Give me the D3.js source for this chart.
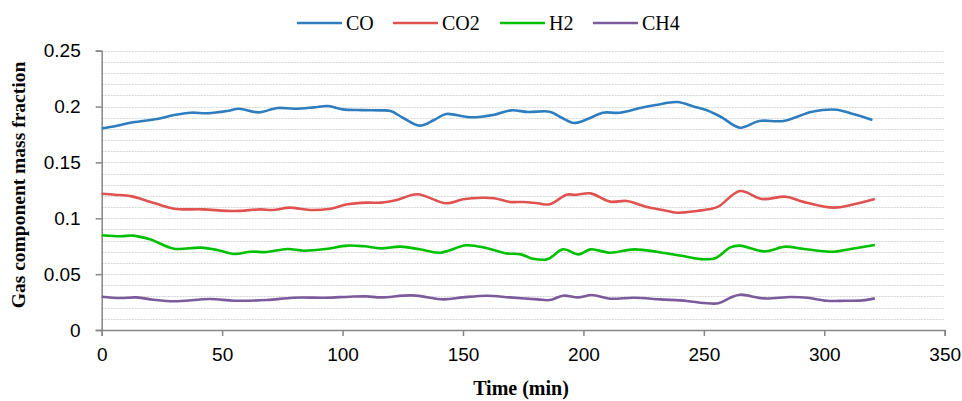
<!DOCTYPE html>
<html><head><meta charset="utf-8">
<script src="https://cdn.jsdelivr.net/npm/d3@7"></script>
<style>body{margin:0;background:#fff}svg{display:block}</style>
</head><body>
<script>
const seriesNames = ["CO", "CO2", "H2", "CH4"];
const seriesColors = ["#2e7ebf", "#df5250", "#00c000", "#7b5b9b"];

const coTime = [0,6,13,23,30,37,44,52,57,65,73,80,88,94,100,108,116,120,125,132,138,143,153,163,170,177,186,191,196,202,208,215,224,230,239,246,251,257,265,273,283,295,305,312,320];
const coVal  = [0.1805,0.1826,0.1859,0.1889,0.1924,0.1945,0.1940,0.1960,0.1981,0.1948,0.1987,0.1981,0.1993,0.2005,0.1975,0.1968,0.1966,0.1960,0.1900,0.1829,0.1880,0.1933,0.1904,0.1927,0.1966,0.1951,0.1954,0.1900,0.1853,0.1890,0.1945,0.1945,0.1990,0.2014,0.2041,0.1999,0.1969,0.1909,0.1811,0.1871,0.1871,0.1954,0.1972,0.1933,0.1880];

const co2Time = [0,5.5,12.5,20,30,42,55,66,71,78,86.5,95,102,110,116,122.5,131,143,150,158,163,169.5,175,181,186,193,197,203,211,218,226,233,239,247,252,256,265,274,284,291,304,311,321];
const co2Val  = [0.1220,0.1211,0.1196,0.1149,0.1086,0.1080,0.1065,0.1080,0.1074,0.1095,0.1074,0.1086,0.1125,0.1140,0.1140,0.1164,0.1215,0.1134,0.1170,0.1184,0.1180,0.1146,0.1146,0.1134,0.1125,0.1211,0.1210,0.1223,0.1149,0.1155,0.1104,0.1074,0.1050,0.1065,0.1080,0.1104,0.1244,0.1173,0.1193,0.1149,0.1095,0.1119,0.1173];

const h2Time = [0,8,13,20,30,41,48,55,62,68.5,77,84,93,102,109,116,124,132,140.5,151.5,160,168,174,179,185,191.5,198,203,211,221,231,240,250,255,261,265,275,284,291,304,311,321];
const h2Val  = [0.0848,0.0839,0.0845,0.0812,0.0728,0.0737,0.0716,0.0680,0.0701,0.0698,0.0725,0.0710,0.0725,0.0755,0.0749,0.0731,0.0746,0.0722,0.0692,0.0758,0.0731,0.0686,0.0677,0.0638,0.0633,0.0722,0.0677,0.0722,0.0692,0.0722,0.0698,0.0667,0.0633,0.0645,0.0740,0.0755,0.0704,0.0746,0.0728,0.0701,0.0725,0.0761];

const ch4Time = [0,7.5,14.5,21.5,30,45,55,68.5,79.5,93,103,110,116,129,142,150,160,169.5,181,186,191.5,198,203.5,211,221,232,243,250,256,261,265,275,286,293,301,309,316,321];
const ch4Val  = [0.0298,0.0286,0.0292,0.0271,0.0257,0.0277,0.0262,0.0268,0.0289,0.0289,0.0298,0.0301,0.0292,0.0310,0.0274,0.0292,0.0307,0.0292,0.0274,0.0268,0.0307,0.0292,0.0313,0.0280,0.0289,0.0274,0.0260,0.0242,0.0239,0.0289,0.0316,0.0283,0.0295,0.0289,0.0262,0.0262,0.0265,0.0283];

const xTicks = [0,50,100,150,200,250,300,350];
const yTicks = [0,0.05,0.1,0.15,0.2,0.25];
const yMinorStep = 0.01;

const W = 962, H = 401;
const svg = d3.select("body").append("svg").attr("width", W).attr("height", H);

const x = d3.scaleLinear().domain([0,350]).range([101.7,944.7]);
const y = d3.scaleLinear().domain([0,0.25]).range([330,50.7]);

// gridlines every 0.01
const gridVals = d3.range(1, 26).map(i => +(i*yMinorStep).toFixed(2));
svg.append("g").selectAll("line").data(gridVals).join("line")
  .attr("x1", x(0)).attr("x2", x(350))
  .attr("y1", d => Math.round(y(d))+0.5).attr("y2", d => Math.round(y(d))+0.5)
  .attr("stroke", "#d6d6d6").attr("stroke-width", 1).attr("stroke-dasharray","2,1");

const axisColor = "#868686";
const tickFont = "'Liberation Sans', Arial, sans-serif";
const serif = "'Liberation Serif', 'Times New Roman', serif";

const yAxis = svg.append("g").attr("transform", `translate(${x(0)},0)`)
  .call(d3.axisLeft(y).tickValues(yTicks).tickFormat(d => d3.format("~g")(d)).tickSize(6).tickPadding(15));
const xAxis = svg.append("g").attr("transform", `translate(0,${y(0)})`)
  .call(d3.axisBottom(x).tickValues(xTicks).tickFormat(d3.format("d")).tickSize(6).tickPadding(12));
[xAxis, yAxis].forEach(a => {
  a.selectAll("path,line").attr("stroke", axisColor).attr("stroke-width", 1.5);
  a.selectAll("text").attr("fill", "#000").style("font-family", tickFont).style("font-size", "19px");
});

const series = [
  {t: coTime, v: coVal},
  {t: co2Time, v: co2Val},
  {t: h2Time, v: h2Val},
  {t: ch4Time, v: ch4Val}
];
const line = d3.line().x(d => x(d[0])).y(d => y(d[1])).curve(d3.curveCatmullRom.alpha(0.5));
series.forEach((s, i) => {
  svg.append("path").datum(s.t.map((t, k) => [t, s.v[k]]))
    .attr("d", line).attr("fill", "none")
    .attr("stroke", seriesColors[i]).attr("stroke-width", 2.6).attr("stroke-linejoin","round");
});

// legend
const legendX = [297, 393, 500, 593];
const leg = svg.append("g");
seriesNames.forEach((n, i) => {
  leg.append("line").attr("x1", legendX[i]).attr("x2", legendX[i]+45)
    .attr("y1", 23).attr("y2", 23).attr("stroke", seriesColors[i]).attr("stroke-width", 2.6);
  leg.append("text").attr("x", legendX[i]+49).attr("y", 30)
    .style("font-family", serif).style("font-size", "20px")
    .text(n);
});

// axis titles
svg.append("text").attr("x", 521).attr("y", 395).attr("text-anchor", "middle")
  .style("font-family", serif).style("font-size", "20px").style("font-weight", "bold")
  .text("Time (min)");
svg.append("text").attr("transform", "translate(25,185) rotate(-90)").attr("text-anchor", "middle")
  .style("font-family", serif).style("font-size", "19.5px").style("font-weight", "bold")
  .text("Gas component mass fraction");
</script>
</body></html>
